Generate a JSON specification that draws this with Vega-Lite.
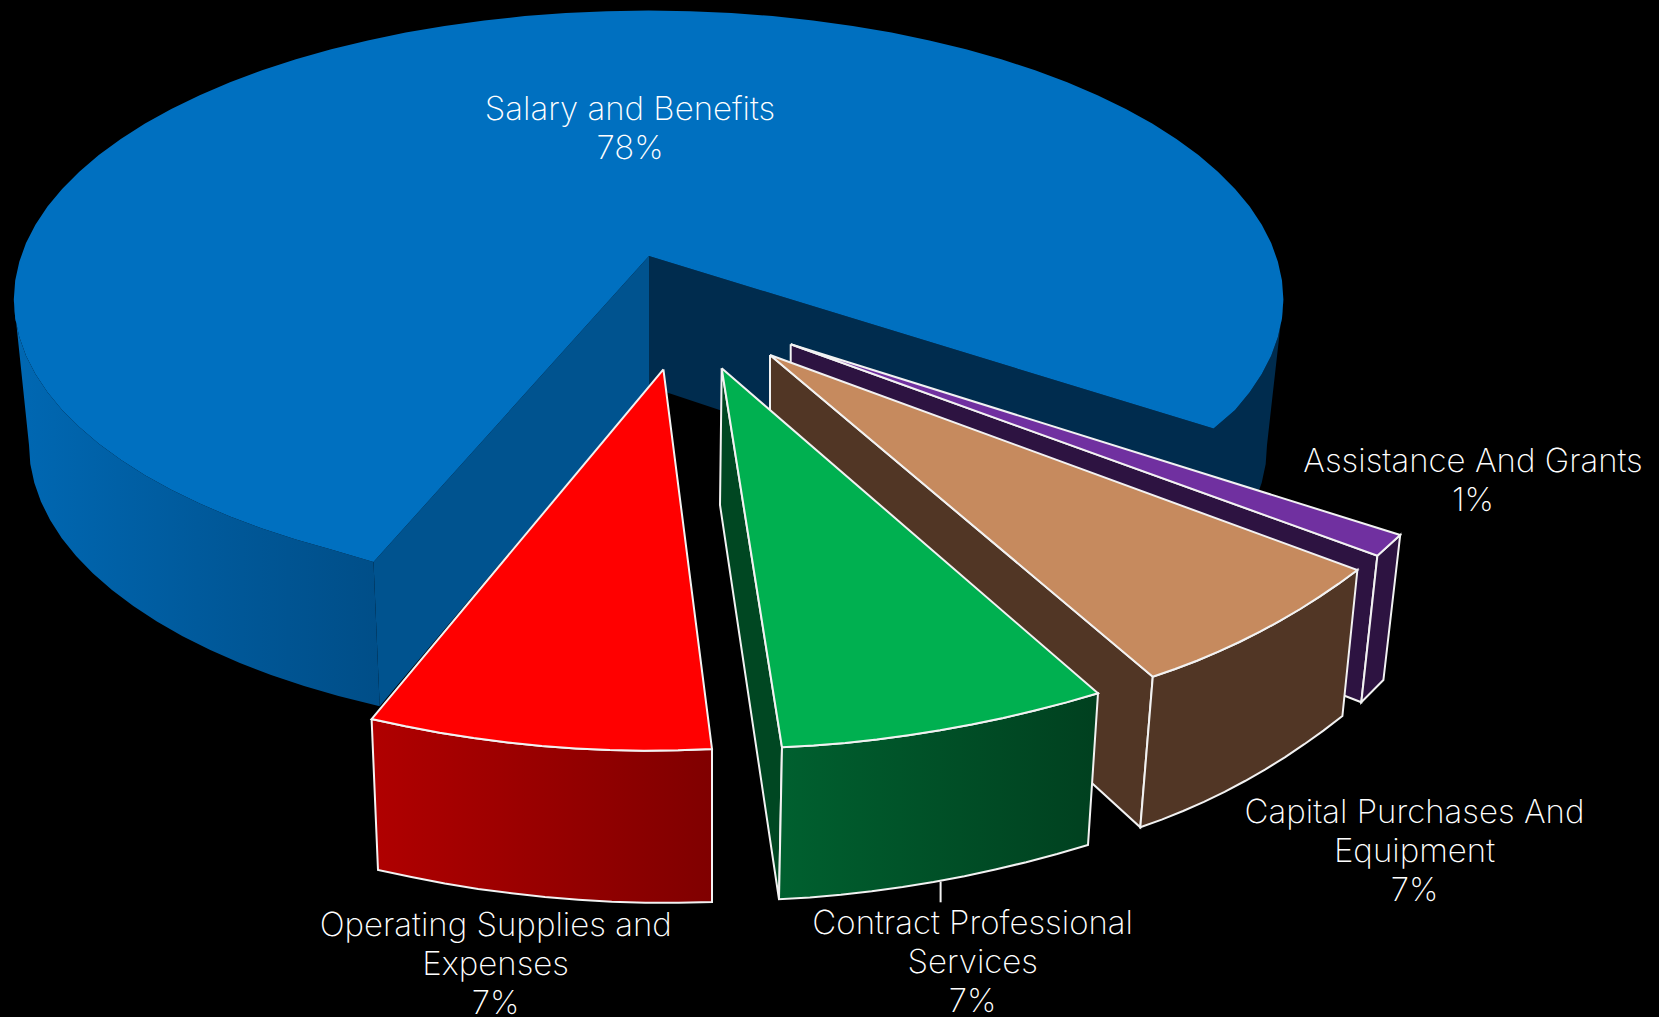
{"$schema":"https://vega.github.io/schema/vega-lite/v6.json","width":1659,"height":1017,"padding":0,"autosize":{"type":"none"},"background":"#000000","config":{"view":{"stroke":null}},
"datasets":{"faces":[
{"face":"salary-side-left","seq":1,"x":373.5,"y":562},{"face":"salary-side-left","seq":2,"x":331.2,"y":549.5},{"face":"salary-side-left","seq":3,"x":295.9,"y":539.5},{"face":"salary-side-left","seq":4,"x":262.1,"y":528.5},{"face":"salary-side-left","seq":5,"x":230,"y":516.5},{"face":"salary-side-left","seq":6,"x":199.7,"y":503.6},{"face":"salary-side-left","seq":7,"x":171.3,"y":489.8},{"face":"salary-side-left","seq":8,"x":145,"y":475.2},{"face":"salary-side-left","seq":9,"x":120.8,"y":459.8},{"face":"salary-side-left","seq":10,"x":98.8,"y":443.8},{"face":"salary-side-left","seq":11,"x":79.3,"y":427.1},{"face":"salary-side-left","seq":12,"x":62.1,"y":409.9},{"face":"salary-side-left","seq":13,"x":47.5,"y":392.2},{"face":"salary-side-left","seq":14,"x":35.4,"y":374.1},{"face":"salary-side-left","seq":15,"x":26,"y":355.7},{"face":"salary-side-left","seq":16,"x":19.3,"y":337.1},{"face":"salary-side-left","seq":17,"x":15.2,"y":318.3},{"face":"salary-side-left","seq":18,"x":13.8,"y":299.4},{"face":"salary-side-left","seq":19,"x":29,"y":445},{"face":"salary-side-left","seq":20,"x":30.3,"y":464},{"face":"salary-side-left","seq":21,"x":34.3,"y":482.8},{"face":"salary-side-left","seq":22,"x":40.9,"y":501.6},{"face":"salary-side-left","seq":23,"x":50.1,"y":520},{"face":"salary-side-left","seq":24,"x":61.8,"y":538.2},{"face":"salary-side-left","seq":25,"x":76.1,"y":556},{"face":"salary-side-left","seq":26,"x":92.8,"y":573.3},{"face":"salary-side-left","seq":27,"x":112,"y":590},{"face":"salary-side-left","seq":28,"x":133.3,"y":606.1},{"face":"salary-side-left","seq":29,"x":156.9,"y":621.5},{"face":"salary-side-left","seq":30,"x":182.6,"y":636.2},{"face":"salary-side-left","seq":31,"x":210.3,"y":650},{"face":"salary-side-left","seq":32,"x":239.9,"y":663},{"face":"salary-side-left","seq":33,"x":271.1,"y":675.1},{"face":"salary-side-left","seq":34,"x":304.1,"y":686.1},{"face":"salary-side-left","seq":35,"x":338.5,"y":696.1},{"face":"salary-side-left","seq":36,"x":379.7,"y":706.3},{"face":"salary-side-left","seq":37,"x":373.5,"y":562},
{"face":"salary-shadow","seq":1,"x":649,"y":256},{"face":"salary-shadow","seq":2,"x":1213.6,"y":428.5},{"face":"salary-shadow","seq":3,"x":1235.1,"y":409.9},{"face":"salary-shadow","seq":4,"x":1249.7,"y":392.2},{"face":"salary-shadow","seq":5,"x":1261.8,"y":374.1},{"face":"salary-shadow","seq":6,"x":1271.2,"y":355.7},{"face":"salary-shadow","seq":7,"x":1277.9,"y":337.1},{"face":"salary-shadow","seq":8,"x":1282,"y":318.3},{"face":"salary-shadow","seq":9,"x":1283.4,"y":299.4},{"face":"salary-shadow","seq":10,"x":1267,"y":445},{"face":"salary-shadow","seq":11,"x":1265.7,"y":464},{"face":"salary-shadow","seq":12,"x":1261.7,"y":482.8},{"face":"salary-shadow","seq":13,"x":1255.1,"y":501.6},{"face":"salary-shadow","seq":14,"x":1245.9,"y":520},{"face":"salary-shadow","seq":15,"x":1234.2,"y":538.2},{"face":"salary-shadow","seq":16,"x":1219.9,"y":556},{"face":"salary-shadow","seq":17,"x":1205,"y":571},{"face":"salary-shadow","seq":18,"x":649,"y":386.5},{"face":"salary-shadow","seq":19,"x":649,"y":256},
{"face":"salary-wall-left","seq":1,"x":649,"y":256},{"face":"salary-wall-left","seq":2,"x":649,"y":386.5},{"face":"salary-wall-left","seq":3,"x":379.7,"y":706.3},{"face":"salary-wall-left","seq":4,"x":373.5,"y":562},{"face":"salary-wall-left","seq":5,"x":649,"y":256},
{"face":"salary-top","seq":1,"x":649,"y":256},{"face":"salary-top","seq":2,"x":373.5,"y":562},{"face":"salary-top","seq":3,"x":331.2,"y":549.5},{"face":"salary-top","seq":4,"x":295.9,"y":539.5},{"face":"salary-top","seq":5,"x":262.1,"y":528.5},{"face":"salary-top","seq":6,"x":230,"y":516.5},{"face":"salary-top","seq":7,"x":199.7,"y":503.6},{"face":"salary-top","seq":8,"x":171.3,"y":489.8},{"face":"salary-top","seq":9,"x":145,"y":475.2},{"face":"salary-top","seq":10,"x":120.8,"y":459.8},{"face":"salary-top","seq":11,"x":98.8,"y":443.8},{"face":"salary-top","seq":12,"x":79.3,"y":427.1},{"face":"salary-top","seq":13,"x":62.1,"y":409.9},{"face":"salary-top","seq":14,"x":47.5,"y":392.2},{"face":"salary-top","seq":15,"x":35.4,"y":374.1},{"face":"salary-top","seq":16,"x":26,"y":355.7},{"face":"salary-top","seq":17,"x":19.3,"y":337.1},{"face":"salary-top","seq":18,"x":15.2,"y":318.3},{"face":"salary-top","seq":19,"x":13.8,"y":299.4},{"face":"salary-top","seq":20,"x":15.2,"y":280.5},{"face":"salary-top","seq":21,"x":19.3,"y":261.7},{"face":"salary-top","seq":22,"x":26,"y":243.1},{"face":"salary-top","seq":23,"x":35.4,"y":224.7},{"face":"salary-top","seq":24,"x":47.5,"y":206.6},{"face":"salary-top","seq":25,"x":62.1,"y":188.9},{"face":"salary-top","seq":26,"x":79.3,"y":171.7},{"face":"salary-top","seq":27,"x":98.8,"y":155},{"face":"salary-top","seq":28,"x":120.8,"y":139},{"face":"salary-top","seq":29,"x":145,"y":123.6},{"face":"salary-top","seq":30,"x":171.3,"y":109},{"face":"salary-top","seq":31,"x":199.7,"y":95.2},{"face":"salary-top","seq":32,"x":230,"y":82.3},{"face":"salary-top","seq":33,"x":262.1,"y":70.3},{"face":"salary-top","seq":34,"x":295.9,"y":59.3},{"face":"salary-top","seq":35,"x":331.2,"y":49.3},{"face":"salary-top","seq":36,"x":367.8,"y":40.4},{"face":"salary-top","seq":37,"x":405.7,"y":32.6},{"face":"salary-top","seq":38,"x":444.5,"y":25.9},{"face":"salary-top","seq":39,"x":484.3,"y":20.4},{"face":"salary-top","seq":40,"x":524.8,"y":16.1},{"face":"salary-top","seq":41,"x":565.8,"y":13.1},{"face":"salary-top","seq":42,"x":607.1,"y":11.2},{"face":"salary-top","seq":43,"x":648.6,"y":10.6},{"face":"salary-top","seq":44,"x":690.1,"y":11.2},{"face":"salary-top","seq":45,"x":731.4,"y":13.1},{"face":"salary-top","seq":46,"x":772.4,"y":16.1},{"face":"salary-top","seq":47,"x":812.9,"y":20.4},{"face":"salary-top","seq":48,"x":852.7,"y":25.9},{"face":"salary-top","seq":49,"x":891.5,"y":32.6},{"face":"salary-top","seq":50,"x":929.4,"y":40.4},{"face":"salary-top","seq":51,"x":966,"y":49.3},{"face":"salary-top","seq":52,"x":1001.3,"y":59.3},{"face":"salary-top","seq":53,"x":1035.1,"y":70.3},{"face":"salary-top","seq":54,"x":1067.2,"y":82.3},{"face":"salary-top","seq":55,"x":1097.5,"y":95.2},{"face":"salary-top","seq":56,"x":1125.9,"y":109},{"face":"salary-top","seq":57,"x":1152.2,"y":123.6},{"face":"salary-top","seq":58,"x":1176.4,"y":139},{"face":"salary-top","seq":59,"x":1198.4,"y":155},{"face":"salary-top","seq":60,"x":1217.9,"y":171.7},{"face":"salary-top","seq":61,"x":1235.1,"y":188.9},{"face":"salary-top","seq":62,"x":1249.7,"y":206.6},{"face":"salary-top","seq":63,"x":1261.8,"y":224.7},{"face":"salary-top","seq":64,"x":1271.2,"y":243.1},{"face":"salary-top","seq":65,"x":1277.9,"y":261.7},{"face":"salary-top","seq":66,"x":1282,"y":280.5},{"face":"salary-top","seq":67,"x":1283.4,"y":299.4},{"face":"salary-top","seq":68,"x":1282,"y":318.3},{"face":"salary-top","seq":69,"x":1277.9,"y":337.1},{"face":"salary-top","seq":70,"x":1271.2,"y":355.7},{"face":"salary-top","seq":71,"x":1261.8,"y":374.1},{"face":"salary-top","seq":72,"x":1249.7,"y":392.2},{"face":"salary-top","seq":73,"x":1235.1,"y":409.9},{"face":"salary-top","seq":74,"x":1213.6,"y":428.5},{"face":"salary-top","seq":75,"x":649,"y":256},
{"face":"assistance-wall","seq":1,"x":790.7,"y":344.3},{"face":"assistance-wall","seq":2,"x":1377.4,"y":555.7},{"face":"assistance-wall","seq":3,"x":1361.3,"y":702.3},{"face":"assistance-wall","seq":4,"x":790.7,"y":480},{"face":"assistance-wall","seq":5,"x":790.7,"y":344.3},
{"face":"assistance-front","seq":1,"x":1377.4,"y":555.7},{"face":"assistance-front","seq":2,"x":1400.2,"y":535},{"face":"assistance-front","seq":3,"x":1383.4,"y":680},{"face":"assistance-front","seq":4,"x":1361.3,"y":702.3},{"face":"assistance-front","seq":5,"x":1377.4,"y":555.7},
{"face":"assistance-top","seq":1,"x":790.7,"y":344.3},{"face":"assistance-top","seq":2,"x":1400.2,"y":535},{"face":"assistance-top","seq":3,"x":1377.4,"y":555.7},{"face":"assistance-top","seq":4,"x":790.7,"y":344.3},
{"face":"capital-wall","seq":1,"x":770,"y":355},{"face":"capital-wall","seq":2,"x":1152.8,"y":676.7},{"face":"capital-wall","seq":3,"x":1140.3,"y":827.3},{"face":"capital-wall","seq":4,"x":770,"y":489},{"face":"capital-wall","seq":5,"x":770,"y":355},
{"face":"capital-front","seq":1,"x":1152.8,"y":676.7},{"face":"capital-front","seq":2,"x":1175.1,"y":669},{"face":"capital-front","seq":3,"x":1196.9,"y":660.7},{"face":"capital-front","seq":4,"x":1218.4,"y":651.7},{"face":"capital-front","seq":5,"x":1239.4,"y":642},{"face":"capital-front","seq":6,"x":1260,"y":631.7},{"face":"capital-front","seq":7,"x":1280.3,"y":620.7},{"face":"capital-front","seq":8,"x":1300.2,"y":609},{"face":"capital-front","seq":9,"x":1319.6,"y":596.7},{"face":"capital-front","seq":10,"x":1338.7,"y":583.7},{"face":"capital-front","seq":11,"x":1357.4,"y":570},{"face":"capital-front","seq":12,"x":1342.4,"y":716},{"face":"capital-front","seq":13,"x":1323.4,"y":730.6},{"face":"capital-front","seq":14,"x":1304.3,"y":744.2},{"face":"capital-front","seq":15,"x":1284.8,"y":757.3},{"face":"capital-front","seq":16,"x":1265,"y":769.6},{"face":"capital-front","seq":17,"x":1245,"y":781},{"face":"capital-front","seq":18,"x":1224.6,"y":791.8},{"face":"capital-front","seq":19,"x":1203.9,"y":801.8},{"face":"capital-front","seq":20,"x":1183.1,"y":811},{"face":"capital-front","seq":21,"x":1161.7,"y":819.6},{"face":"capital-front","seq":22,"x":1140.3,"y":827.3},{"face":"capital-front","seq":23,"x":1152.8,"y":676.7},
{"face":"capital-top","seq":1,"x":770,"y":355},{"face":"capital-top","seq":2,"x":1357.4,"y":570},{"face":"capital-top","seq":3,"x":1338.7,"y":583.7},{"face":"capital-top","seq":4,"x":1319.6,"y":596.7},{"face":"capital-top","seq":5,"x":1300.2,"y":609},{"face":"capital-top","seq":6,"x":1280.3,"y":620.7},{"face":"capital-top","seq":7,"x":1260,"y":631.7},{"face":"capital-top","seq":8,"x":1239.4,"y":642},{"face":"capital-top","seq":9,"x":1218.4,"y":651.7},{"face":"capital-top","seq":10,"x":1196.9,"y":660.7},{"face":"capital-top","seq":11,"x":1175.1,"y":669},{"face":"capital-top","seq":12,"x":1152.8,"y":676.7},{"face":"capital-top","seq":13,"x":770,"y":355},
{"face":"contract-wall","seq":1,"x":721.7,"y":368.3},{"face":"contract-wall","seq":2,"x":782,"y":747.3},{"face":"contract-wall","seq":3,"x":779,"y":899.3},{"face":"contract-wall","seq":4,"x":720,"y":505},{"face":"contract-wall","seq":5,"x":721.7,"y":368.3},
{"face":"contract-front","seq":1,"x":782,"y":747.3},{"face":"contract-front","seq":2,"x":813.6,"y":745.5},{"face":"contract-front","seq":3,"x":845.2,"y":742.9},{"face":"contract-front","seq":4,"x":876.8,"y":739.5},{"face":"contract-front","seq":5,"x":908.4,"y":735.2},{"face":"contract-front","seq":6,"x":940,"y":730.3},{"face":"contract-front","seq":7,"x":971.6,"y":724.5},{"face":"contract-front","seq":8,"x":1003.2,"y":717.9},{"face":"contract-front","seq":9,"x":1034.8,"y":710.5},{"face":"contract-front","seq":10,"x":1066.4,"y":702.4},{"face":"contract-front","seq":11,"x":1098,"y":693.3},{"face":"contract-front","seq":12,"x":1088,"y":845},{"face":"contract-front","seq":13,"x":1057.1,"y":854},{"face":"contract-front","seq":14,"x":1026.2,"y":862.2},{"face":"contract-front","seq":15,"x":995.3,"y":869.5},{"face":"contract-front","seq":16,"x":964.4,"y":876.2},{"face":"contract-front","seq":17,"x":933.5,"y":882},{"face":"contract-front","seq":18,"x":902.6,"y":887},{"face":"contract-front","seq":19,"x":871.7,"y":891.3},{"face":"contract-front","seq":20,"x":840.8,"y":894.8},{"face":"contract-front","seq":21,"x":809.9,"y":897.4},{"face":"contract-front","seq":22,"x":779,"y":899.3},{"face":"contract-front","seq":23,"x":782,"y":747.3},
{"face":"operating-front","seq":1,"x":371.6,"y":719},{"face":"operating-front","seq":2,"x":405.6,"y":726.3},{"face":"operating-front","seq":3,"x":439.7,"y":732.8},{"face":"operating-front","seq":4,"x":473.7,"y":738.1},{"face":"operating-front","seq":5,"x":507.8,"y":742.4},{"face":"operating-front","seq":6,"x":541.8,"y":746},{"face":"operating-front","seq":7,"x":575.8,"y":748.4},{"face":"operating-front","seq":8,"x":609.9,"y":750.1},{"face":"operating-front","seq":9,"x":644,"y":750.8},{"face":"operating-front","seq":10,"x":678,"y":750.3},{"face":"operating-front","seq":11,"x":712,"y":749},{"face":"operating-front","seq":12,"x":712,"y":902},{"face":"operating-front","seq":13,"x":678.6,"y":902.7},{"face":"operating-front","seq":14,"x":645.2,"y":902.7},{"face":"operating-front","seq":15,"x":611.8,"y":901.7},{"face":"operating-front","seq":16,"x":578.4,"y":899.7},{"face":"operating-front","seq":17,"x":545,"y":897},{"face":"operating-front","seq":18,"x":511.6,"y":893.3},{"face":"operating-front","seq":19,"x":478.2,"y":888.9},{"face":"operating-front","seq":20,"x":444.8,"y":883.5},{"face":"operating-front","seq":21,"x":411.4,"y":877.1},{"face":"operating-front","seq":22,"x":378,"y":870},{"face":"operating-front","seq":23,"x":371.6,"y":719},
{"face":"contract-top","seq":1,"x":721.7,"y":368.3},{"face":"contract-top","seq":2,"x":1098,"y":693.3},{"face":"contract-top","seq":3,"x":1066.4,"y":702.4},{"face":"contract-top","seq":4,"x":1034.8,"y":710.5},{"face":"contract-top","seq":5,"x":1003.2,"y":717.9},{"face":"contract-top","seq":6,"x":971.6,"y":724.5},{"face":"contract-top","seq":7,"x":940,"y":730.3},{"face":"contract-top","seq":8,"x":908.4,"y":735.2},{"face":"contract-top","seq":9,"x":876.8,"y":739.5},{"face":"contract-top","seq":10,"x":845.2,"y":742.9},{"face":"contract-top","seq":11,"x":813.6,"y":745.5},{"face":"contract-top","seq":12,"x":782,"y":747.3},{"face":"contract-top","seq":13,"x":721.7,"y":368.3},
{"face":"operating-top","seq":1,"x":663.4,"y":369.3},{"face":"operating-top","seq":2,"x":371.6,"y":719},{"face":"operating-top","seq":3,"x":405.6,"y":726.3},{"face":"operating-top","seq":4,"x":439.7,"y":732.8},{"face":"operating-top","seq":5,"x":473.7,"y":738.1},{"face":"operating-top","seq":6,"x":507.8,"y":742.4},{"face":"operating-top","seq":7,"x":541.8,"y":746},{"face":"operating-top","seq":8,"x":575.8,"y":748.4},{"face":"operating-top","seq":9,"x":609.9,"y":750.1},{"face":"operating-top","seq":10,"x":644,"y":750.8},{"face":"operating-top","seq":11,"x":678,"y":750.3},{"face":"operating-top","seq":12,"x":712,"y":749},{"face":"operating-top","seq":13,"x":663.4,"y":369.3},
{"face":"contract-leader","seq":1,"x":940.6,"y":881.7},{"face":"contract-leader","seq":2,"x":940.6,"y":902.3}
],
"labels":[
{"label":"Salary and Benefits\n78%","x":630,"y":120},
{"label":"Assistance And Grants\n1%","x":1473,"y":471.5},
{"label":"Capital Purchases And\nEquipment\n7%","x":1414.5,"y":822.5},
{"label":"Contract Professional\nServices\n7%","x":972.7,"y":933.5},
{"label":"Operating Supplies and\nExpenses\n7%","x":495.7,"y":935.5}
]},
"encoding":{
"x":{"field":"x","type":"quantitative","scale":{"domain":[0,1659],"nice":false,"zero":false},"axis":null},
"y":{"field":"y","type":"quantitative","scale":{"domain":[1017,0],"nice":false,"zero":false},"axis":null}
},
"layer":[
{"data":{"name":"faces"},"transform":[{"filter":"datum.face === 'salary-side-left'"}],
"mark":{"type":"line","filled":true,"strokeWidth":0,"fill":{"gradient":"linear","x1":0,"y1":0,"x2":1,"y2":0,"stops":[{"offset":0,"color":"#0068B3"},{"offset":0.5,"color":"#005A9C"},{"offset":1,"color":"#004E88"}]}},
"encoding":{"order":{"field":"seq","type":"quantitative"},"detail":{"field":"face"}}},
{"data":{"name":"faces"},"transform":[{"filter":"indexof(['salary-shadow','salary-wall-left','salary-top'], datum.face) >= 0"}],
"mark":{"type":"line","filled":true,"strokeWidth":0},
"encoding":{"order":{"field":"seq","type":"quantitative"},"detail":{"field":"face"},
"fill":{"field":"face","type":"nominal","legend":null,"scale":{"domain":["salary-shadow","salary-wall-left","salary-top","assistance-wall","assistance-front","assistance-top","capital-wall","capital-front","capital-top","contract-wall","contract-top","operating-top"],"range":["#002C4E","#00538F","#0070C0","#2D1341","#2D1341","#7030A0","#513625","#513625","#C68A5E","#004722","#00B050","#FF0000"]}}}},
{"data":{"name":"faces"},"transform":[{"filter":"indexof(['assistance-wall','assistance-front','assistance-top','capital-wall','capital-front','capital-top','contract-wall'], datum.face) >= 0"}],
"mark":{"type":"line","filled":true,"stroke":"#F2F2F2","strokeWidth":2},
"encoding":{"order":{"field":"seq","type":"quantitative"},"detail":{"field":"face"},"fill":{"field":"face","type":"nominal","legend":null}}},
{"data":{"name":"faces"},"transform":[{"filter":"datum.face === 'contract-front'"}],
"mark":{"type":"line","filled":true,"stroke":"#F2F2F2","strokeWidth":2,"fill":{"gradient":"linear","x1":0,"y1":0,"x2":1,"y2":0,"stops":[{"offset":0,"color":"#00602F"},{"offset":1,"color":"#00401F"}]}},
"encoding":{"order":{"field":"seq","type":"quantitative"},"detail":{"field":"face"}}},
{"data":{"name":"faces"},"transform":[{"filter":"datum.face === 'operating-front'"}],
"mark":{"type":"line","filled":true,"stroke":"#F2F2F2","strokeWidth":2,"fill":{"gradient":"linear","x1":0,"y1":0,"x2":1,"y2":0,"stops":[{"offset":0,"color":"#B00000"},{"offset":1,"color":"#800000"}]}},
"encoding":{"order":{"field":"seq","type":"quantitative"},"detail":{"field":"face"}}},
{"data":{"name":"faces"},"transform":[{"filter":"indexof(['contract-top','operating-top'], datum.face) >= 0"}],
"mark":{"type":"line","filled":true,"stroke":"#F2F2F2","strokeWidth":2},
"encoding":{"order":{"field":"seq","type":"quantitative"},"detail":{"field":"face"},"fill":{"field":"face","type":"nominal","legend":null}}},
{"data":{"name":"faces"},"transform":[{"filter":"datum.face === 'contract-leader'"}],
"mark":{"type":"line","stroke":"#F2F2F2","strokeWidth":2},
"encoding":{"order":{"field":"seq","type":"quantitative"},"detail":{"field":"face"}}},
{"data":{"name":"labels"},
"mark":{"type":"text","font":"Inter","fontWeight":200,"fontSize":33,"color":"#FFFFFF","align":"center","baseline":"alphabetic","lineBreak":"\n","lineHeight":39},
"encoding":{"text":{"field":"label","type":"nominal"}}}
]}
